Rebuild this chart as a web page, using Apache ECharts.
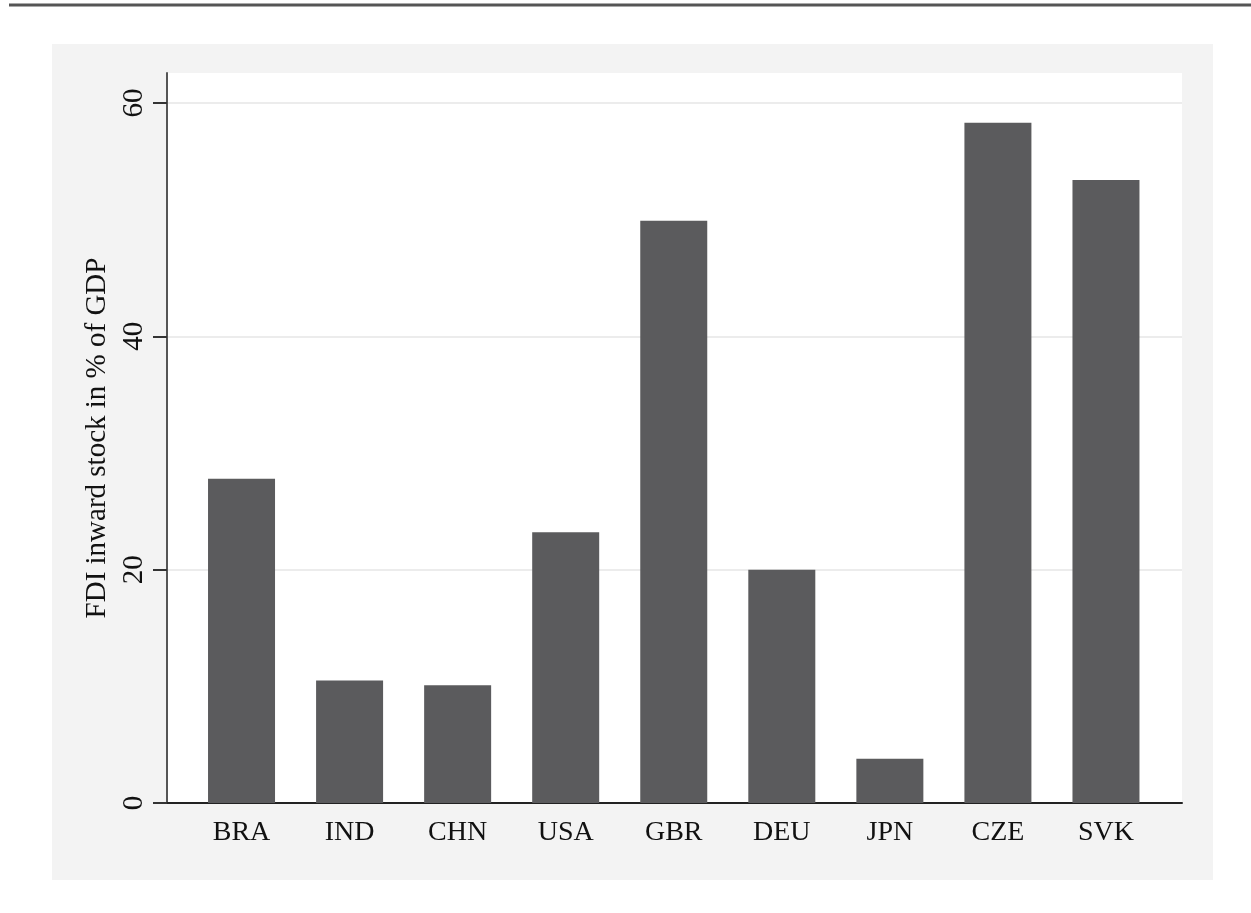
<!DOCTYPE html>
<html>
<head>
<meta charset="utf-8">
<title>FDI inward stock</title>
<script src="https://cdn.jsdelivr.net/npm/echarts@6/dist/echarts.min.js"></script>
<style>
  html, body { margin: 0; padding: 0; background: #fff; }
  #chart { width: 1251px; height: 913px; }
</style>
</head>
<body>
<div id="chart"></div>
<script>
const countries = ['BRA', 'IND', 'CHN', 'USA', 'GBR', 'DEU', 'JPN', 'CZE', 'SVK']
const fdiStock = [27.8, 10.5, 10.1, 23.2, 49.9, 20.0, 3.8, 58.3, 53.4]
const yTicks = [0, 20, 40, 60]
const yTitle = 'FDI inward stock in % of GDP'

const font = '"Liberation Serif", "DejaVu Serif", serif'
const ink = '#111'
const barColor = '#5b5b5d'

const chart = echarts.init(document.getElementById('chart'))

chart.setOption({
  animation: false,
  graphic: [
    {
      type: 'line',
      shape: { x1: 9, y1: 5, x2: 1251, y2: 5 },
      style: { stroke: '#555', lineWidth: 3 }
    }
  ],
  grid: [
    // outer grey panel
    { left: 52, top: 44, right: 38, bottom: 33, show: true, backgroundColor: '#f3f3f3', borderWidth: 0, z: -2 },
    // white plot region with axis lines
    { left: 167, top: 73, right: 69, bottom: 110, show: true, backgroundColor: '#fff', borderWidth: 0, z: -1 },
    // tick grid (0..60)
    { left: 167, top: 103, right: 69, bottom: 110 },
    // bars
    { left: 187.5, top: 103, right: 91, bottom: 110 }
  ],
  xAxis: [
    { gridIndex: 0, type: 'value', show: false },
    {
      gridIndex: 1, type: 'value', min: 0, max: 1,
      axisLine: { show: true, onZero: false, lineStyle: { color: '#222', width: 2 } },
      axisTick: { show: false }, axisLabel: { show: false }, splitLine: { show: false }
    },
    { gridIndex: 2, type: 'value', show: false },
    {
      gridIndex: 3, type: 'category', data: countries,
      axisLine: { show: false }, axisTick: { show: false },
      axisLabel: { margin: 16, fontFamily: font, fontSize: 28, color: ink }
    }
  ],
  yAxis: [
    { gridIndex: 0, type: 'value', show: false },
    {
      gridIndex: 1, type: 'value', min: 0, max: 62.57,
      axisLine: { show: true, lineStyle: { color: '#555', width: 2 } },
      axisTick: { show: false }, axisLabel: { show: false }, splitLine: { show: false },
      name: yTitle, nameLocation: 'middle', nameGap: 55,
      nameTextStyle: { fontFamily: font, fontSize: 29, color: ink }
    },
    {
      gridIndex: 2, type: 'value', min: yTicks[0], max: yTicks[yTicks.length - 1], interval: 20,
      axisLine: { show: false },
      axisTick: { show: true, length: 14, lineStyle: { color: '#333', width: 2 } },
      axisLabel: { rotate: 90, margin: 18, fontFamily: font, fontSize: 29, color: ink },
      splitLine: { show: true, lineStyle: { color: '#ececec', width: 2 } }
    },
    { gridIndex: 3, type: 'value', min: yTicks[0], max: yTicks[yTicks.length - 1], show: false }
  ],
  series: [
    {
      type: 'bar',
      xAxisIndex: 3,
      yAxisIndex: 3,
      data: fdiStock,
      barWidth: 67,
      itemStyle: { color: barColor },
      z: 3
    }
  ]
})
</script>
</body>
</html>
